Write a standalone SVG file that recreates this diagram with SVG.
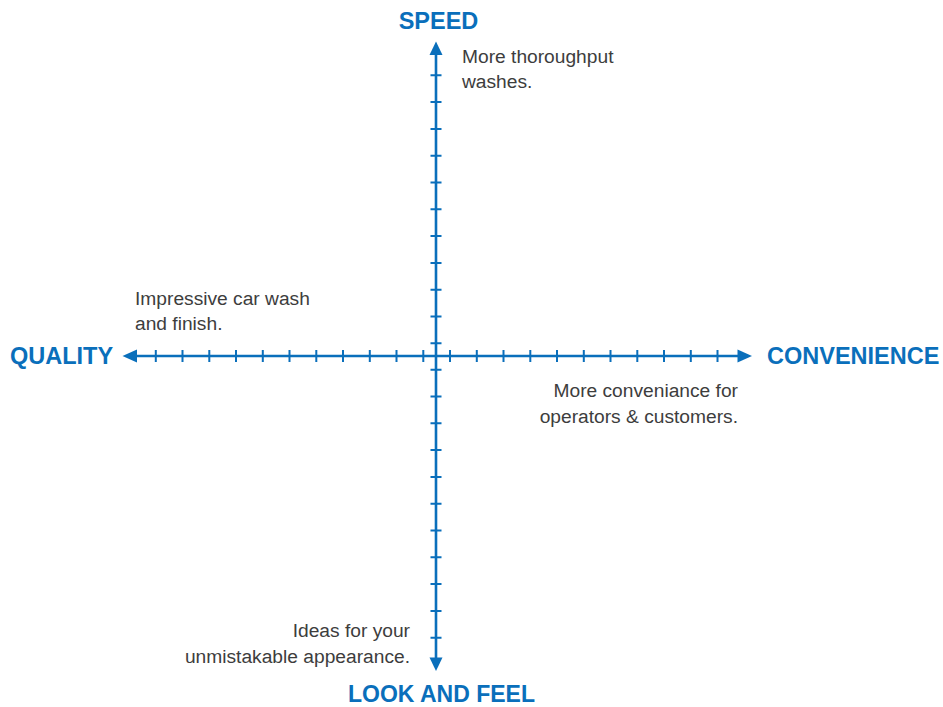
<svg xmlns="http://www.w3.org/2000/svg" width="943" height="707" viewBox="0 0 943 707">
<style>
.axis{stroke:#0a6fbb;stroke-width:2.6;fill:none}
.tick{stroke:#0a6fbb;stroke-width:2;fill:none}
.head{fill:#0a6fbb}
.title{font-family:"Liberation Sans",Arial,sans-serif;font-size:23.5px;font-weight:bold;fill:#0a6fbb}
.note{font-family:"Liberation Sans",Arial,sans-serif;font-size:19.2px;fill:#3d3d3d}
</style>
<rect width="943" height="707" fill="#ffffff"/>
<g id="connectors">
<line class="axis" x1="134" y1="356" x2="741" y2="356"/>
<line class="axis" x1="436" y1="51" x2="436" y2="661"/>
<polygon class="head" points="122.5,356 137,349.5 137,362.5"/>
<polygon class="head" points="752,356 737.5,349.5 737.5,362.5"/>
<polygon class="head" points="436,41.5 429.5,55 442.5,55"/>
<polygon class="head" points="436,671 429.5,657.5 442.5,657.5"/>
<path class="tick" d="M423.3,350V362 M396.5,350V362 M369.8,350V362 M343,350V362 M316.3,350V362 M289.5,350V362 M262.8,350V362 M236,350V362 M209.3,350V362 M182.5,350V362 M155.8,350V362 M450,350V362 M476.8,350V362 M503.5,350V362 M530.3,350V362 M557,350V362 M583.8,350V362 M610.5,350V362 M637.3,350V362 M664,350V362 M690.8,350V362 M717.5,350V362"/>
<path class="tick" d="M430.5,343.3H441.5 M430.5,316.5H441.5 M430.5,289.7H441.5 M430.5,262.9H441.5 M430.5,236.1H441.5 M430.5,209.3H441.5 M430.5,182.5H441.5 M430.5,155.7H441.5 M430.5,128.9H441.5 M430.5,102.1H441.5 M430.5,75.3H441.5 M430.5,369.7H441.5 M430.5,396.5H441.5 M430.5,423.3H441.5 M430.5,450.1H441.5 M430.5,476.9H441.5 M430.5,503.7H441.5 M430.5,530.5H441.5 M430.5,557.3H441.5 M430.5,584.1H441.5 M430.5,610.9H441.5 M430.5,637.7H441.5"/>
</g>
<g id="speed">
<text class="title" x="438.5" y="29" text-anchor="middle">SPEED</text>
<text class="note" x="462" y="63">More thoroughput</text>
<text class="note" x="462" y="88">washes.</text>
</g>
<g id="quality">
<text class="title" x="10" y="364">QUALITY</text>
<text class="note" x="135" y="305">Impressive car wash</text>
<text class="note" x="135" y="330">and finish.</text>
</g>
<g id="convenience">
<text class="title" x="767" y="364">CONVENIENCE</text>
<text class="note" x="738" y="397" text-anchor="end">More conveniance for</text>
<text class="note" x="738" y="423" text-anchor="end">operators &amp; customers.</text>
</g>
<g id="look-and-feel">
<text class="title" x="441.5" y="702" text-anchor="middle" style="font-size:23px">LOOK AND FEEL</text>
<text class="note" x="410" y="637" text-anchor="end">Ideas for your</text>
<text class="note" x="410" y="663" text-anchor="end">unmistakable appearance.</text>
</g>
</svg>
